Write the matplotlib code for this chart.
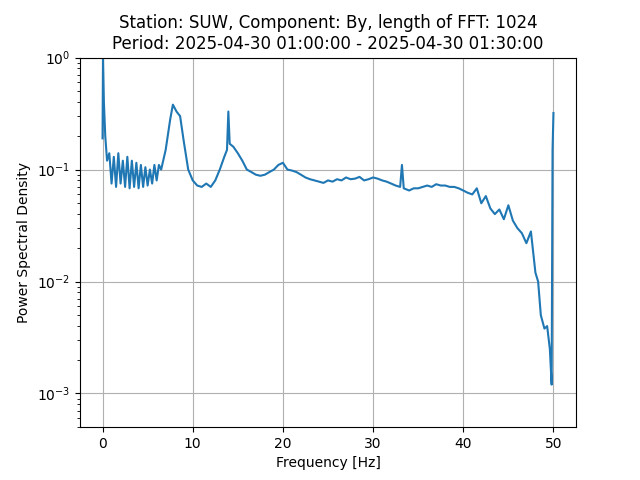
import matplotlib
matplotlib.use("Agg")
import matplotlib.pyplot as plt

freq = [0, 0.05, 0.15, 0.3, 0.5,
        0.75, 1.0, 1.25, 1.5, 1.75, 2.0, 2.25, 2.5, 2.75, 3.0, 3.25, 3.5, 3.75, 4.0, 4.25, 4.5, 4.75, 5.0, 5.25, 5.5, 5.75, 6.0, 6.25, 6.5,
        7.0, 7.5, 7.8, 8.2, 8.6, 9.0, 9.5, 10.0, 10.5, 11.0, 11.5, 12.0, 12.5, 13.0, 13.5, 13.8, 13.95, 14.1, 14.5, 15.0, 15.5, 16.0,
        16.5, 17.0, 17.5, 18.0, 18.5, 19.0, 19.5, 20.0, 20.5, 21.0, 21.5, 22.0, 22.5, 23.0, 23.5, 24.0, 24.5, 25.0, 25.5, 26.0, 26.5,
        27.0, 27.5, 28.0, 28.5, 29.0, 29.5, 30.0, 30.5, 31.0, 31.5, 32.0, 32.5, 33.0, 33.2, 33.4, 34.0, 34.5, 35.0, 35.5, 36.0, 36.5,
        37.0, 37.5, 38.0, 38.5, 39.0, 39.5, 40.0, 40.5, 41.0, 41.5, 42.0, 42.5, 43.0, 43.5, 44.0, 44.5, 45.0, 45.5, 46.0, 46.5,
        47.0, 47.5, 48.0, 48.3, 48.6, 49.0, 49.3, 49.6, 49.8, 49.9, 50.0]
psd = [0.19, 1.0, 0.4, 0.2, 0.12,
       0.14, 0.075, 0.13, 0.07, 0.14, 0.075, 0.12, 0.07, 0.13, 0.068, 0.12, 0.07, 0.115, 0.068, 0.11, 0.07, 0.105, 0.072, 0.1, 0.075, 0.11, 0.08, 0.11, 0.1,
       0.15, 0.28, 0.38, 0.33, 0.3, 0.18, 0.1, 0.08, 0.072, 0.07, 0.075, 0.07, 0.08, 0.1, 0.13, 0.15, 0.33, 0.17, 0.16, 0.14, 0.12, 0.1,
       0.095, 0.09, 0.088, 0.09, 0.095, 0.1, 0.11, 0.115, 0.1, 0.098, 0.095, 0.09, 0.085, 0.082, 0.08, 0.078, 0.076, 0.08, 0.078, 0.082, 0.08,
       0.085, 0.082, 0.083, 0.086, 0.08, 0.082, 0.085, 0.083, 0.08, 0.078, 0.075, 0.072, 0.07, 0.11, 0.068, 0.065, 0.068, 0.068, 0.07, 0.072, 0.07,
       0.074, 0.072, 0.072, 0.07, 0.07, 0.068, 0.065, 0.062, 0.06, 0.068, 0.05, 0.058, 0.045, 0.04, 0.044, 0.036, 0.048, 0.035, 0.03, 0.027,
       0.022, 0.028, 0.012, 0.01, 0.005, 0.0038, 0.004, 0.0025, 0.0012, 0.15, 0.32]

fig, ax = plt.subplots(figsize=(6.4, 4.8), dpi=100)
ax.semilogy(freq, psd, color="#1f77b4", lw=1.5)
ax.set_ylim(5e-4, 1)
ax.set_xlabel("Frequency [Hz]")
ax.set_ylabel("Power Spectral Density")
ax.set_title("Station: SUW, Component: By, length of FFT: 1024\nPeriod: 2025-04-30 01:00:00 - 2025-04-30 01:30:00")
ax.grid(True)
fig.savefig("out.png")
